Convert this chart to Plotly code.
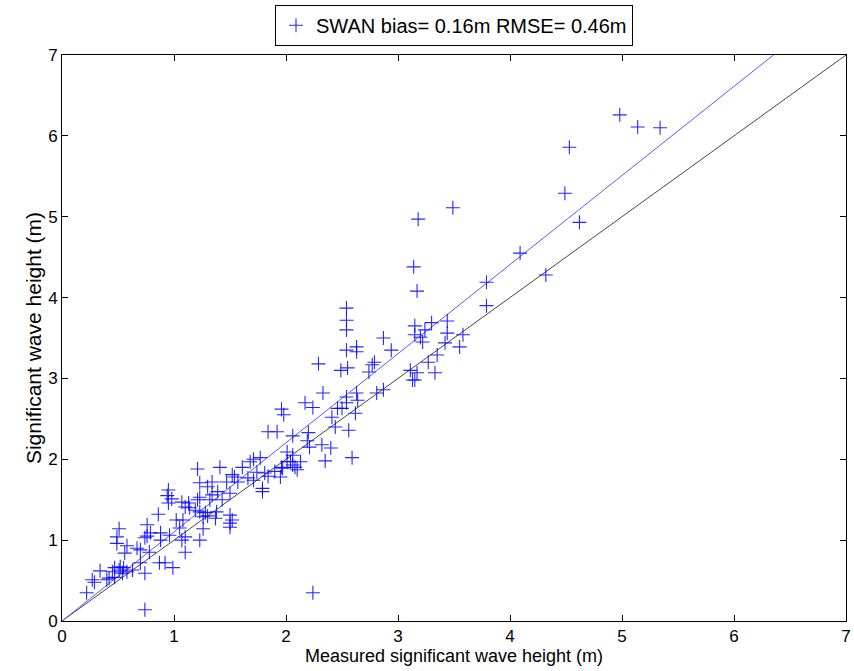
import plotly.graph_objects as go

measured = [
    0.22, 0.27, 0.29, 0.34, 0.40, 0.42, 0.45, 0.47, 0.47, 0.51, 0.52, 0.54, 0.55, 0.58, 0.63,
    0.49, 0.51, 0.49, 0.58, 0.56, 0.67, 0.70, 0.70, 0.74, 0.74, 0.76, 0.79, 0.76, 0.88, 0.74,
    0.78, 0.88, 0.96, 0.87, 0.92, 0.95, 0.86, 0.95, 0.94, 0.98, 0.99, 1.07, 1.10, 1.23, 1.07,
    1.13, 1.02, 1.05, 1.26, 1.10,
    1.21, 1.41, 1.34, 1.23, 1.30, 1.52, 1.61, 1.68, 1.71, 1.77, 1.57, 1.74, 1.81, 1.79, 1.79,
    1.39, 1.43, 1.32, 1.21, 1.10, 1.14, 1.19, 1.23, 1.28, 1.26, 1.30, 1.37, 1.38, 1.50, 1.52,
    1.08, 1.50, 1.50, 1.47, 1.50, 1.34, 1.23, 1.54, 1.66, 1.71, 1.84, 1.95, 1.90, 1.96, 2.01,
    2.06, 2.10,
    1.84, 1.92, 1.96, 1.98, 2.06, 2.20, 2.19, 2.21, 2.32, 2.40, 2.35, 2.33, 2.17, 2.24, 2.41,
    2.46, 2.50, 2.54, 2.54, 2.44, 2.56, 2.59, 2.62, 2.01, 2.06, 2.13, 2.04, 2.08, 1.97, 2.24,
    2.54, 2.54, 2.54, 2.54, 2.63, 2.63, 2.29, 2.49, 2.55, 2.87, 2.94, 2.79, 2.77, 2.74, 2.63,
    2.64, 2.81, 2.87,
    3.15, 3.15, 3.20, 3.24, 3.30, 3.44, 3.44, 3.58, 3.55, 3.42, 3.22, 3.35, 3.27, 3.33, 3.11,
    3.13, 3.15, 3.17, 3.79, 3.79, 3.14, 3.17, 3.18, 3.49, 4.09, 4.32, 4.49, 4.53, 4.62, 4.98,
    5.14, 5.34,
]

swan = [
    0.35, 0.51, 0.48, 0.62, 0.51, 0.53, 0.61, 0.66, 0.54, 0.63, 0.67, 0.59, 0.66, 0.61, 0.63,
    1.04, 1.14, 0.96, 0.93, 0.84, 0.90, 0.88, 0.72, 0.59, 0.14, 1.19, 1.09, 1.05, 1.09, 1.03,
    0.85, 1.00, 1.06, 0.72, 0.72, 1.46, 1.32, 1.62, 1.55, 1.51, 0.66, 1.00, 0.85, 1.00, 1.47,
    1.46, 1.25, 1.15, 1.14, 1.04,
    1.88, 1.90, 1.72, 1.71, 1.66, 1.81, 1.90, 1.97, 2.00, 2.02, 1.72, 1.84, 1.83, 1.64, 1.60,
    1.60, 1.50, 1.50, 1.50, 1.41, 1.40, 1.37, 1.35, 1.34, 1.29, 1.30, 1.27, 1.35, 1.31, 1.25,
    1.25, 1.21, 1.16, 1.72, 1.58, 1.56, 1.53, 1.78, 1.77, 1.74, 1.79, 1.78, 1.85, 1.90, 1.97,
    1.93, 1.87,
    2.34, 2.34, 2.62, 2.55, 2.29, 2.33, 2.23, 2.15, 2.18, 2.14, 1.98, 2.82, 2.70, 2.64, 2.52,
    2.63, 2.63, 2.77, 2.70, 2.40, 2.36, 2.02, 2.57, 2.09, 2.05, 1.97, 1.97, 1.90, 1.89, 0.35,
    3.87, 3.72, 3.60, 3.35, 3.39, 3.33, 3.18, 3.10, 3.13, 3.50, 3.35, 3.20, 3.17, 3.08, 2.82,
    2.73, 2.82, 2.86,
    3.65, 3.54, 3.51, 3.60, 3.69, 3.71, 3.56, 3.54, 3.39, 3.44, 3.45, 3.29, 3.20, 3.07, 3.10,
    2.98, 2.98, 3.07, 3.90, 4.19, 4.38, 4.08, 4.97, 5.11, 4.55, 4.28, 5.29, 5.86, 4.93, 6.26,
    6.11, 6.10,
]

legend_label = "SWAN bias= 0.16m RMSE= 0.46m"
ticks = [0, 1, 2, 3, 4, 5, 6, 7]
fit_slope = 1.102
line_x = [0, 7]

FONT = "Liberation Sans, Arial, sans-serif"

fig = go.Figure()

fig.add_trace(go.Scatter(
    x=line_x, y=line_x, mode="lines",
    line=dict(color="rgb(70,70,70)", width=1),
    showlegend=False, hoverinfo="skip",
))
fig.add_trace(go.Scatter(
    x=line_x, y=[v * fit_slope for v in line_x], mode="lines",
    line=dict(color="rgb(90,90,255)", width=1),
    showlegend=False, hoverinfo="skip",
))
fig.add_trace(go.Scatter(
    x=measured, y=swan, mode="markers", name=legend_label,
    marker=dict(symbol="cross-thin", size=10, color="blue",
                line=dict(color="rgba(0,0,255,0.85)", width=1.1)),
))

axis_common = dict(
    range=[0, 7], tickvals=ticks, ticks="inside", ticklen=6,
    showline=True, linecolor="black", linewidth=1, mirror="ticks",
    showgrid=False, zeroline=False, tickcolor="black", automargin=False,
    tickfont=dict(family=FONT, size=17, color="black"),
)

fig.update_layout(
    width=854, height=671,
    margin=dict(l=62, r=8, t=55, b=50, autoexpand=False),
    paper_bgcolor="white", plot_bgcolor="white",
    font=dict(family=FONT, size=17, color="black"),
    xaxis=dict(axis_common, title=dict(text="Measured significant wave height (m)",
                                       font=dict(size=18), standoff=0)),
    yaxis=dict(axis_common, title=dict(text="Significant wave height (m)",
                                       font=dict(size=21), standoff=0)),
    legend=dict(x=0.5, xanchor="center", y=0.993, yanchor="top",
                yref="container", xref="paper",
                bordercolor="black", borderwidth=1, bgcolor="white",
                font=dict(size=20), itemwidth=30),
    showlegend=True,
)

fig.write_html(
    "out.html",
    config={"displayModeBar": False},
    post_script="document.body.style.margin='0';document.body.style.overflow='hidden';",
)
